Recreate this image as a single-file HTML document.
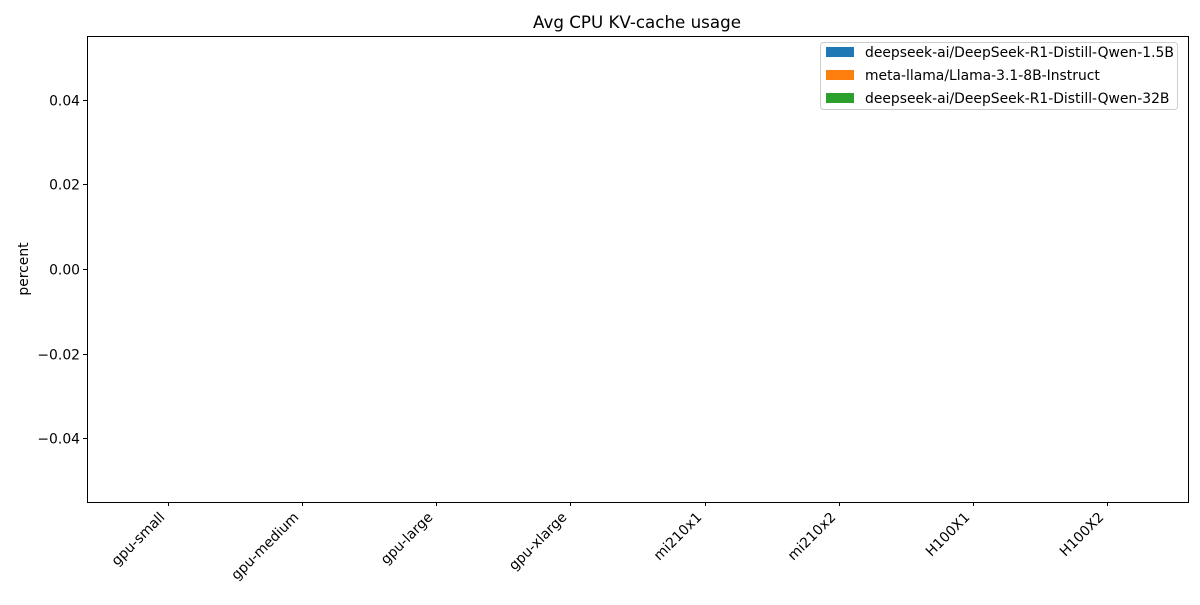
<!DOCTYPE html>
<html><head><meta charset="utf-8"><style>
body{margin:0;background:#fff;}
svg text{font-family:"DejaVu Sans","Liberation Sans",sans-serif;fill:#000;}
</style></head><body>
<svg id="chart" width="1200" height="600" xmlns="http://www.w3.org/2000/svg">
<text x="637" y="28" font-size="16.7" text-anchor="middle">Avg CPU KV-cache usage</text>
<text transform="translate(28,269) rotate(-90)" font-size="13.9" text-anchor="middle">percent</text>
<g id="bars"></g>
<g id="yticks"></g>
<g id="xticks"></g>
<rect x="87.5" y="36.5" width="1101" height="466" fill="none" stroke="#000" stroke-width="1"/>
<g>
<rect x="820.5" y="42.5" width="357" height="67" rx="3" fill="#fff" fill-opacity="0.8" stroke="#ccc"/>
<g><rect x="826" y="47" width="28" height="10" fill="#1f77b4"/><text x="865" y="57" font-size="13.9">deepseek-ai/DeepSeek-R1-Distill-Qwen-1.5B</text></g>
<g><rect x="826" y="70" width="28" height="10" fill="#ff7f0e"/><text x="865" y="80" font-size="13.9">meta-llama/Llama-3.1-8B-Instruct</text></g>
<g><rect x="826" y="93" width="28" height="10" fill="#2ca02c"/><text x="865" y="103" font-size="13.9">deepseek-ai/DeepSeek-R1-Distill-Qwen-32B</text></g>
</g>
</svg>
<script>
const categories=["gpu-small","gpu-medium","gpu-large","gpu-xlarge","mi210x1","mi210x2","H100X1","H100X2"];
const seriesQwen15=[0,0,0,0,0,0,0,0];
const seriesLlama8=[0,0,0,0,0,0,0,0];
const seriesQwen32=[0,0,0,0,0,0,0,0];
const yTicks=[-0.04,-0.02,0.00,0.02,0.04];
const yTickLabels=["\u22120.04","\u22120.02","0.00","0.02","0.04"];
const NS="http://www.w3.org/2000/svg";
const L=87,R=1188,T=36,B=502;
const xMin=-0.6,xMax=7.6,yMin=-0.055,yMax=0.055;
const xs=v=>L+(v-xMin)/(xMax-xMin)*(R-L);
const ys=v=>B-(v-yMin)/(yMax-yMin)*(B-T);
function mk(t,a){const e=document.createElementNS(NS,t);for(const k in a)e.setAttribute(k,a[k]);return e;}
const bars=document.getElementById('bars');
const series=[seriesQwen15,seriesLlama8,seriesQwen32];
const colors=["#1f77b4","#ff7f0e","#2ca02c"];
const bw=0.25;
series.forEach((s,si)=>{s.forEach((v,i)=>{
  const x0=xs(i+(si-1)*bw-bw/2),x1=xs(i+(si-1)*bw+bw/2);
  const y0=ys(Math.max(v,0)),y1=ys(Math.min(v,0));
  const r=mk('rect',{x:x0,y:y0,width:x1-x0,height:y1-y0,fill:colors[si]});
  
  
  bars.appendChild(r);
});});
const yg=document.getElementById('yticks');
yTicks.forEach((v,i)=>{
  const y=Math.round(ys(v))+0.5;
  const l=mk('line',{x1:83,x2:87,y1:y,y2:y,stroke:'#000'});
  
  
  yg.appendChild(l);
  const t=mk('text',{x:80,y:y+5,'font-size':13.9,'text-anchor':'end'});
  t.textContent=yTickLabels[i];
  
  
  yg.appendChild(t);
});
const xg=document.getElementById('xticks');
categories.forEach((c,i)=>{
  const x=Math.round(xs(i))+0.5;
  const l=mk('line',{x1:x,x2:x,y1:502,y2:506,stroke:'#000'});
  
  
  xg.appendChild(l);
  const t=mk('text',{transform:`translate(${x-3},${518}) rotate(-45)`,'font-size':13.9,'text-anchor':'end'});
  t.textContent=c;
  
  
  xg.appendChild(t);
});
</script>
</body></html>
